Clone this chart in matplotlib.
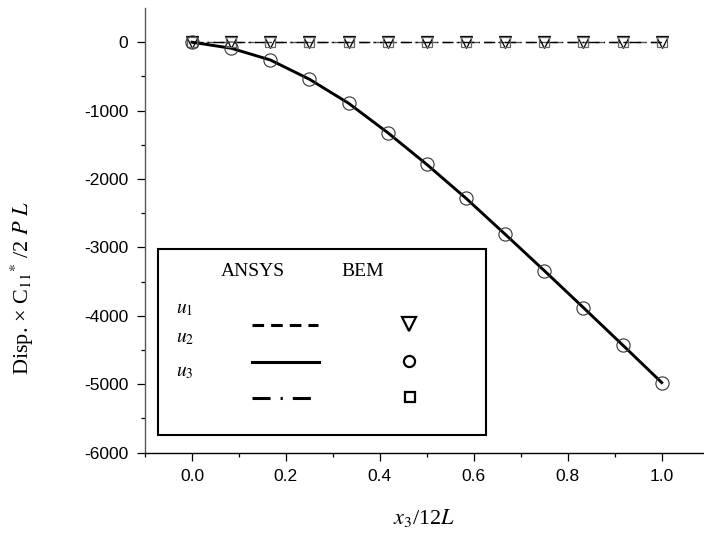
import matplotlib
matplotlib.use("Agg")
import matplotlib.pyplot as plt
import numpy as np
from matplotlib.lines import Line2D
from matplotlib.patches import Rectangle

# positions along the beam (x3/12L) and displacements
x_pos = np.arange(13) / 12.0
u1_bem = [0, 0, 0, 0, 0, 0, 0, 0, 0, 0, 0, 0, 0]
u2_bem = [0, -88, -259, -541, -892, -1322, -1787, -2281, -2807, -3339, -3880, -4425, -4975]
u3_bem = [0, 0, 0, 0, 0, 0, 0, 0, 0, 0, 0, 0, 0]
u1_ansys = [0, 0, 0, 0, 0, 0, 0, 0, 0, 0, 0, 0, 0]
u2_ansys = [0, -88, -259, -541, -892, -1322, -1787, -2281, -2807, -3339, -3880, -4425, -4975]
u3_ansys = [0, 0, 0, 0, 0, 0, 0, 0, 0, 0, 0, 0, 0]

x_ticks = [0.0, 0.2, 0.4, 0.6, 0.8, 1.0]
y_ticks = [0, -1000, -2000, -3000, -4000, -5000, -6000]

plt.rcParams['font.family'] = 'Liberation Sans'
plt.rcParams['mathtext.fontset'] = 'stix'

W, H = 704, 533
fig = plt.figure(figsize=(W / 100, H / 100), dpi=100)

def fx(px):
    return px / W

def fy(py):
    return 1 - py / H

ax = fig.add_axes([fx(145), fy(452.7), fx(704) - fx(145), fy(8) - fy(452.7)])

# ANSYS lines
ax.plot(x_pos, u1_ansys, color='0.35', ls=(0, (6, 4)), lw=1.0)
ax.plot(x_pos, u3_ansys, color='black', ls=(0, (8, 3, 1, 3)), lw=1.0)
ax.plot(x_pos, u2_ansys, color='black', ls='-', lw=2.1)

# BEM markers
ax.plot(x_pos, u1_bem, ls='none', marker='v', ms=9, mfc='none', mec='black', mew=0.9)
ax.plot(x_pos, u3_bem, ls='none', marker='s', ms=7.5, mfc='none', mec='0.4', mew=0.9)
ax.plot(x_pos, u2_bem, ls='none', marker='o', ms=9.5, mfc='none', mec='0.2', mew=0.8)

ax.set_xlim(-0.1, 1.09)
ax.set_ylim(-6000, 500)
ax.set_xticks(x_ticks)
ax.set_xticklabels(['%.1f' % v for v in x_ticks])
ax.set_xticks(np.arange(-0.1, 1.09, 0.1), minor=True)
ax.set_yticks(y_ticks)
ax.set_yticklabels(['%d' % v for v in y_ticks])
ax.set_yticks(np.arange(-5500, 500, 1000), minor=True)

ax.spines['top'].set_visible(False)
ax.spines['right'].set_visible(False)
ax.spines['left'].set_color('0.35')
ax.spines['left'].set_linewidth(1.0)
ax.spines['bottom'].set_linewidth(1.0)
ax.tick_params(which='major', direction='out', length=5.5, width=0.9, labelsize=12.5, pad=6.5)
ax.tick_params(which='minor', direction='out', length=3, width=0.9)

fig.text(fx(424), fy(518), r'$x_3$/12$L$', family='Liberation Serif',
         fontsize=16, ha='center', va='center')
fig.text(fx(22), fy(288), r'Disp. × C$_{11}$$^{*}$ /2 $P$ $L$', family='Liberation Serif',
         fontsize=16, ha='center', va='center', rotation=90)

# hand-made legend box
fig.patches.append(Rectangle((fx(157.5), fy(435)), fx(486) - fx(157.5), fy(249.5) - fy(435),
                             transform=fig.transFigure, fill=False, lw=1.5, ec='black'))
fig.text(fx(253), fy(272), 'ANSYS', family='Liberation Serif', fontsize=14, ha='center', va='center')
fig.text(fx(363), fy(272), 'BEM', family='Liberation Serif', fontsize=14, ha='center', va='center')
for lab, yy in [('$u_1$', 309), ('$u_2$', 339), ('$u_3$', 373)]:
    fig.text(fx(176), fy(yy), lab, fontsize=14, ha='left', va='center')

fig.lines.append(Line2D([fx(252), fx(318)], [fy(325), fy(325)], transform=fig.transFigure,
                        color='black', lw=2.2, ls=(0, (3.8, 2.3))))
fig.lines.append(Line2D([fx(252), fx(319)], [fy(362), fy(362)], transform=fig.transFigure,
                        color='black', lw=2.2, ls='-'))
fig.lines.append(Line2D([fx(252), fx(311)], [fy(398), fy(398)], transform=fig.transFigure,
                        color='black', lw=2.2, ls=(0, (5.9, 3.3, 0.7, 3.3))))
fig.lines.append(Line2D([fx(409)], [fy(324)], transform=fig.transFigure, ls='none',
                        marker='v', ms=10, mfc='none', mec='black', mew=1.6))
fig.lines.append(Line2D([fx(409)], [fy(361)], transform=fig.transFigure, ls='none',
                        marker='o', ms=8, mfc='none', mec='black', mew=1.6))
fig.lines.append(Line2D([fx(409.5)], [fy(397)], transform=fig.transFigure, ls='none',
                        marker='s', ms=7.5, mfc='none', mec='black', mew=1.6))

fig.savefig('out.png', dpi=100)
